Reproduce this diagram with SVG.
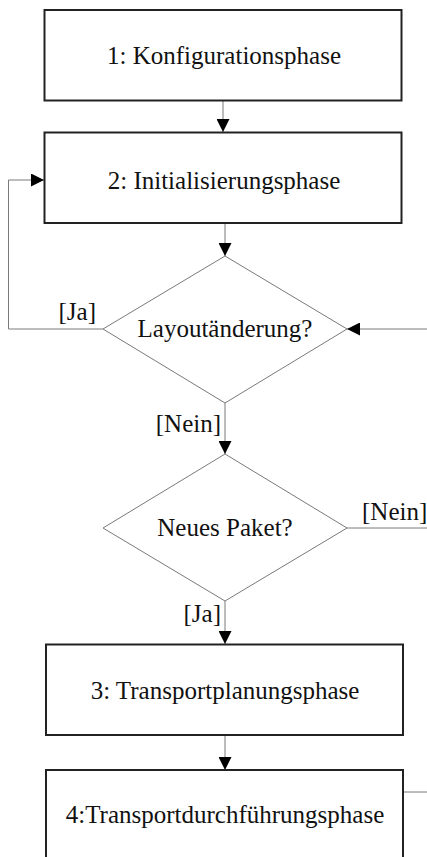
<svg xmlns="http://www.w3.org/2000/svg" width="427" height="857" viewBox="0 0 427 857">
  <style>
    .box { fill: #ffffff; stroke: #222222; stroke-width: 2; }
    .dec { fill: #ffffff; stroke: #7a7a7a; stroke-width: 1; }
    .edge { fill: none; stroke: #7a7a7a; stroke-width: 1; }
    text { font-family: "Liberation Serif", "Times New Roman", serif; font-size: 25px; fill: #111111; }
    .c { text-anchor: middle; }
    .e { text-anchor: end; }
  </style>
  <defs>
    <marker id="arrow" viewBox="0 0 13 13" refX="13" refY="6.5" markerWidth="13" markerHeight="13" markerUnits="userSpaceOnUse" orient="auto">
      <path d="M0,0 L13,6.5 L0,13 Z" fill="#000000"/>
    </marker>
  </defs>

  <rect width="427" height="857" fill="#ffffff"/>

  <g id="connectors">
    <!-- 1 -> 2 -->
    <line class="edge" x1="223" y1="101" x2="223" y2="132" marker-end="url(#arrow)"/>
    <!-- 2 -> Layoutänderung? -->
    <line class="edge" x1="225" y1="224" x2="225" y2="256" marker-end="url(#arrow)"/>
    <!-- Layoutänderung? [Ja] -> 2 -->
    <polyline class="edge" points="103,329 8.5,329 8.5,180 44,180" marker-end="url(#arrow)"/>
    <!-- return into Layoutänderung? from the right -->
    <line class="edge" x1="427" y1="329" x2="347" y2="329" marker-end="url(#arrow)"/>
    <!-- Layoutänderung? [Nein] -> Neues Paket? -->
    <line class="edge" x1="225" y1="403" x2="225" y2="454" marker-end="url(#arrow)"/>
    <!-- Neues Paket? [Nein] -> right -->
    <line class="edge" x1="347" y1="528" x2="427" y2="528"/>
    <!-- Neues Paket? [Ja] -> 3 -->
    <line class="edge" x1="225" y1="601" x2="225" y2="644" marker-end="url(#arrow)"/>
    <!-- 3 -> 4 -->
    <line class="edge" x1="225" y1="736" x2="225" y2="770" marker-end="url(#arrow)"/>
    <!-- 4 -> right -->
    <line class="edge" x1="404" y1="792" x2="427" y2="792"/>

    <text class="e" x="96" y="320">[Ja]</text>
    <text class="e" x="221" y="432">[Nein]</text>
    <text x="362" y="520">[Nein]</text>
    <text class="e" x="221" y="622">[Ja]</text>
  </g>

  <g id="konfiguration">
    <rect class="box" x="44.5" y="10" width="357" height="90.5"/>
    <text class="c" x="224" y="64">1: Konfigurationsphase</text>
  </g>

  <g id="initialisierung">
    <rect class="box" x="44.5" y="132.5" width="357" height="90.5"/>
    <text class="c" x="224" y="189">2: Initialisierungsphase</text>
  </g>

  <g id="layoutaenderung">
    <polygon class="dec" points="225,256 347,329 225,403 103,329"/>
    <text class="c" x="225" y="337">Layoutänderung?</text>
  </g>

  <g id="neues-paket">
    <polygon class="dec" points="225,454 347,528 225,601 103,528"/>
    <text class="c" x="225" y="536">Neues Paket?</text>
  </g>

  <g id="transportplanung">
    <rect class="box" x="46" y="644.5" width="357" height="90.5"/>
    <text class="c" x="225" y="699">3: Transportplanungsphase</text>
  </g>

  <g id="transportdurchfuehrung">
    <rect class="box" x="46" y="770" width="357" height="100"/>
    <text class="c" x="225" y="823">4:Transportdurchführungsphase</text>
  </g>
</svg>
